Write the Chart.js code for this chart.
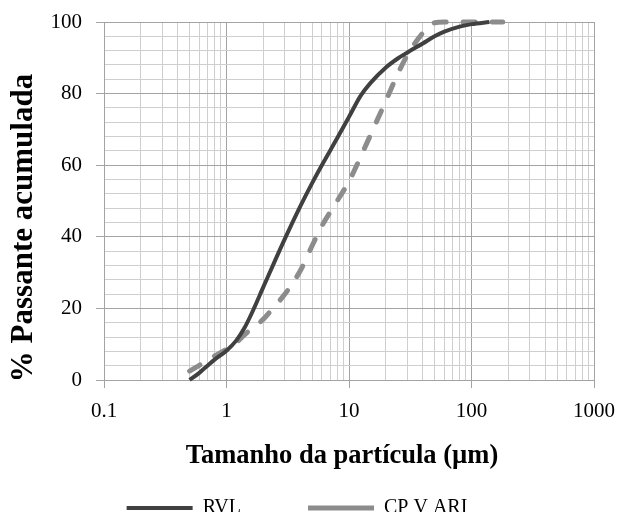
<!DOCTYPE html>
<html>
<head>
<meta charset="utf-8">
<title>Distribuição granulométrica</title>
<script src="https://cdn.jsdelivr.net/npm/chart.js@4.4.1/dist/chart.umd.min.js"></script>
<style>
  html, body { margin: 0; padding: 0; background: #fff; overflow: hidden; }
  #wrap { position: relative; width: 622px; height: 528px; }
</style>
</head>
<body>
<div id="wrap"><canvas id="chart"></canvas></div>
<script>
// particle size (µm) vs cumulative % passing
const rvlSize    = [0.5, 0.6, 0.7, 0.8, 1, 1.2, 1.4, 1.6, 2, 2.5, 3, 4, 5, 6, 8, 10, 12.5, 15, 20, 25, 30, 40, 50, 60, 80, 100, 140];
const rvlPassing = [0, 2, 4, 5.7, 8.2, 11, 14.5, 18.5, 26, 33.5, 39.5, 48.5, 55, 60, 67.5, 73.5, 79.5, 83, 87.3, 89.8, 91.5, 94, 96, 97.3, 98.7, 99.4, 100];

const cpSize    = [0.5, 0.6, 0.7, 0.8, 1, 1.2, 1.4, 1.6, 2, 2.5, 3, 4, 5, 6, 8, 10, 12.5, 15, 20, 25, 30, 40, 50, 60, 100, 180];
const cpPassing = [2.5, 4.1, 5.5, 6.7, 8.6, 10.4, 12.6, 14.3, 17, 20.8, 24, 30.5, 37.5, 43, 50, 55.5, 62.5, 68.5, 78, 85.5, 90.8, 96.9, 99.8, 100, 100, 100];

const seriesNames = ['RVL', 'CP V ARI'];
const xTickLabels = ['0.1', '1', '10', '100', '1000'];
const yTickLabels = [0, 20, 40, 60, 80, 100];
const xTitle = 'Tamanho da partícula (µm)';
const yTitle = '% Passante acumulada';

const majorGrid = '#a3a3a3';
const minorGrid = '#cfcfcf';
const serif = '"Liberation Serif", "Times New Roman", serif';

// log grid: 1..9 in every decade, 0.1 to 1000
const xGridValues = [];
for (let e = -1; e <= 2; e++) {
  for (let d = 1; d <= 9; d++) xGridValues.push(+(d * Math.pow(10, e)).toPrecision(3));
}
xGridValues.push(1000);

const isDecade = v => xTickLabels.includes(String(v));
const isMajorY = v => yTickLabels.includes(v);
const toPoints = (xs, ys) => xs.map((x, i) => ({ x, y: ys[i] }));

// axis titles drawn by hand so they sit where the original had them
const axisTitles = {
  id: 'axisTitles',
  afterDraw(chart) {
    const ctx = chart.ctx;
    ctx.save();
    ctx.fillStyle = '#000';
    ctx.textAlign = 'center';
    ctx.textBaseline = 'middle';
    ctx.font = 'bold 26.5px ' + serif;
    ctx.fillText(xTitle, 342, 456);
    ctx.translate(24, 228);
    ctx.rotate(-Math.PI / 2);
    ctx.font = 'bold 31px ' + serif;
    ctx.fillText(yTitle, 0, 0);
    ctx.restore();
  }
};

new Chart(document.getElementById('chart'), {
  type: 'line',
  data: {
    datasets: [
      {
        label: seriesNames[0],
        data: toPoints(rvlSize, rvlPassing),
        borderColor: '#404040',
        backgroundColor: '#404040',
        borderWidth: 4,
        pointRadius: 0,
        pointHoverRadius: 0,
        cubicInterpolationMode: 'monotone',
        clip: false
      },
      {
        label: seriesNames[1],
        data: toPoints(cpSize, cpPassing),
        borderColor: '#8c8c8c',
        backgroundColor: '#8c8c8c',
        borderWidth: 5,
        borderDash: [12, 17],
        borderCapStyle: 'round',
        pointRadius: 0,
        pointHoverRadius: 0,
        cubicInterpolationMode: 'monotone',
        clip: false
      }
    ]
  },
  options: {
    responsive: true,
    maintainAspectRatio: false,
    animation: false,
    events: [],
    layout: { padding: { top: 22, right: 28, left: 0, bottom: 0 } },
    plugins: {
      tooltip: { enabled: false },
      legend: {
        position: 'bottom',
        labels: {
          usePointStyle: true,
          pointStyle: 'line',
          pointStyleWidth: 66,
          padding: 67,
          color: '#000',
          font: { family: serif, size: 20 }
        }
      }
    },
    scales: {
      x: {
        type: 'logarithmic',
        min: 0.1,
        max: 1000,
        afterBuildTicks: s => { s.ticks = xGridValues.map(v => ({ value: v })); },
        afterFit: s => { s.height = 51; s.paddingLeft = 0; s.paddingRight = 0; },
        grid: {
          color: c => (c.tick && isDecade(c.tick.value)) ? majorGrid : minorGrid,
          tickColor: c => (c.tick && isDecade(c.tick.value)) ? majorGrid : 'rgba(0,0,0,0)',
          tickLength: 8
        },
        border: { color: majorGrid },
        ticks: {
          autoSkip: false,
          maxRotation: 0,
          padding: 11,
          color: '#000',
          font: { family: serif, size: 21 },
          callback: v => isDecade(v) ? String(v) : ''
        }
      },
      y: {
        min: 0,
        max: 100,
        afterFit: s => { s.width = 104; s.paddingTop = 0; s.paddingBottom = 0; },
        grid: {
          color: c => (c.tick && isMajorY(c.tick.value)) ? majorGrid : minorGrid,
          tickColor: c => (c.tick && isMajorY(c.tick.value)) ? majorGrid : 'rgba(0,0,0,0)',
          tickLength: 8
        },
        border: { color: majorGrid },
        ticks: {
          stepSize: 4,
          autoSkip: false,
          padding: 14,
          color: '#000',
          font: { family: serif, size: 21 },
          callback: v => isMajorY(v) ? v : ''
        }
      }
    }
  },
  plugins: [axisTitles]
});
</script>
</body>
</html>
